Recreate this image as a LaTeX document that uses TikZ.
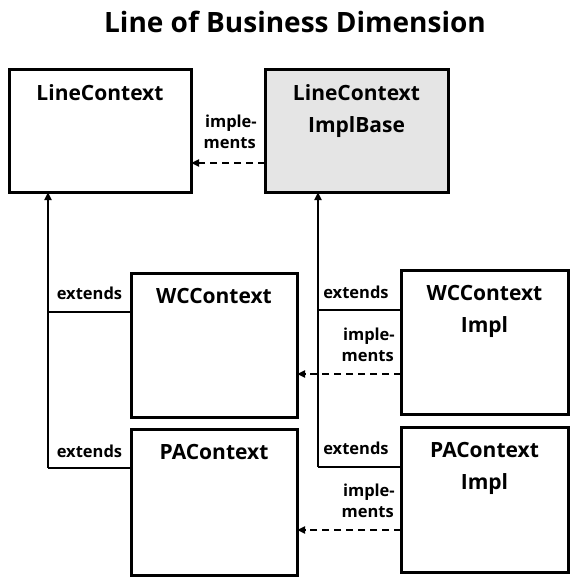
\documentclass[tikz,border=0pt]{standalone}
\usepackage{fontspec}
\setmainfont{Open Sans}
\usetikzlibrary{arrows.meta}
\begin{document}
\begin{tikzpicture}[x=1pt,y=-1pt,
  box/.style={draw,line width=3pt,inner sep=0pt,outer sep=0pt},
  ttl/.style={font=\bfseries\fontsize{21}{25}\selectfont,anchor=base,inner sep=0pt},
  lbl/.style={font=\bfseries\fontsize{16.5}{21}\selectfont,inner sep=0pt},
  conn/.style={line width=2pt},
  tip/.style={-{Triangle[length=8pt,width=7pt]}},
  dsh/.style={dash pattern=on 7pt off 5pt}]
\useasboundingbox (0,0) rectangle (576,588);
% title
\node[font=\bfseries\fontsize{28}{32}\selectfont,anchor=base,inner sep=0pt] (title) at (295,33) {Line of Business Dimension};
% boxes
\node[box,minimum width=182,minimum height=122] (lc) at (100,131) {};
\node[box,fill=black!10,minimum width=183,minimum height=122] (lcib) at (356.5,131) {};
\node[box,minimum width=166,minimum height=144] (wc) at (214,345) {};
\node[box,minimum width=167,minimum height=144] (wci) at (484.5,342) {};
\node[box,minimum width=166,minimum height=146] (pa) at (214,502) {};
\node[box,minimum width=167,minimum height=145] (pai) at (484.5,499.5) {};
% box texts
\node[ttl] (lct) at ([yshift=-31]lc.north) {LineContext};
\node[ttl] (lcibt1) at ([yshift=-31]lcib.north) {LineContext};
\node[ttl] (lcibt2) at ([yshift=-63]lcib.north) {ImplBase};
\node[ttl] (wct) at ([yshift=-30]wc.north) {WCContext};
\node[ttl] (wcit1) at ([yshift=-30]wci.north) {WCContext};
\node[ttl] (wcit2) at ([yshift=-62]wci.north) {Impl};
\node[ttl] (pat) at ([yshift=-30]pa.north) {PAContext};
\node[ttl] (pait1) at ([yshift=-30]pai.north) {PAContext};
\node[ttl] (pait2) at ([yshift=-62]pai.north) {Impl};
% extends connectors (left)
\coordinate (lj1) at (48,312);
\coordinate (lj2) at (48,468);
\draw[conn,tip] (lj2) -- (lj2 |- lc.south);
\draw[conn] (lj1) -- (lj1 -| wc.west);
\draw[conn] (lj2) -- (lj2 -| pa.west);
% extends connectors (right)
\coordinate (rj1) at (318,310);
\coordinate (rj2) at (318,467);
\draw[conn,tip] (rj2) -- (rj2 |- lcib.south);
\draw[conn] (rj1) -- (rj1 -| wci.west);
\draw[conn] (rj2) -- (rj2 -| pai.west);
% implements connectors
\coordinate (d0) at (265,163);
\coordinate (d1) at (401,374);
\coordinate (d2) at (401,530);
\draw[conn,dsh,tip] (d0 -| lcib.west) -- (d0 -| lc.east);
\draw[conn,dsh,tip] (d1 -| wci.west) -- (d1 -| wc.east);
\draw[conn,dsh,tip] (d2 -| pai.west) -- (d2 -| pa.east);
% labels
\node[lbl,anchor=base] (ex1) at (89.5,299) {extends};
\node[lbl,anchor=base] (ex2) at (89.5,457) {extends};
\node[lbl,anchor=base] (ex3) at (356,298) {extends};
\node[lbl,anchor=base] (ex4) at (356,454) {extends};
\node[lbl,anchor=base east] (im1a) at (257,128) {imple-};
\node[lbl,anchor=base east] (im1b) at (256,149) {ments};
\node[lbl,anchor=base east] (im2a) at (395,340) {imple-};
\node[lbl,anchor=base east] (im2b) at (394,361) {ments};
\node[lbl,anchor=base east] (im3a) at (395,496) {imple-};
\node[lbl,anchor=base east] (im3b) at (394,517) {ments};
\end{tikzpicture}
\end{document}
